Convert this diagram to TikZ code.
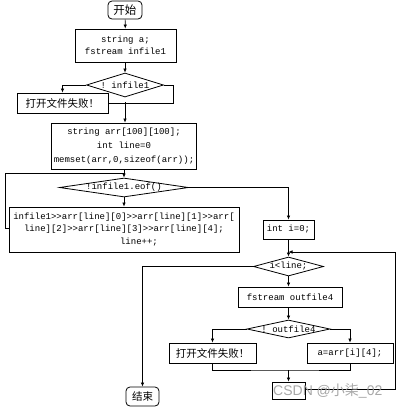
\documentclass[tikz,border=0pt]{standalone}
\usepackage{fontspec}
\setmonofont{Liberation Mono}
\setsansfont{Liberation Sans}
\newfontfamily\cjk{Noto Sans CJK SC}
\usetikzlibrary{shapes.geometric,arrows.meta}
\begin{document}
\begin{tikzpicture}[x=1pt,y=-1pt,
  box/.style={draw=black,line width=0.8pt,inner sep=0pt,
    font=\ttfamily\fontsize{9}{12}\selectfont,align=center},
  cjkbox/.style={draw=black,line width=0.8pt,inner sep=0pt,
    font=\cjk\fontsize{10.5}{12}\selectfont},
  term/.style={cjkbox,rounded corners=4pt},
  dia/.style={draw=black,line width=0.8pt,diamond,inner sep=0pt},
  dtext/.style={font=\ttfamily\fontsize{9}{11}\selectfont,inner sep=0pt},
  conn/.style={line width=0.7pt},
  arr/.style={conn,-{Latex[length=4pt,width=3.5pt]}}
]
\useasboundingbox (0,0) rectangle (402,408);
\fill[white] (0,0) rectangle (402,408);

% nodes
\node[term,minimum width=34pt,minimum height=18pt,font=\cjk\fontsize{11.5}{12}\selectfont] (start) at (125,10) {开始};
\node[box,minimum width=101pt,minimum height=33pt] (b1) at (125.5,45.5) {string a;\\fstream infile1};
\node[dia,minimum width=77pt,minimum height=24pt] (d1) at (125,85) {};
\node[dtext] at (d1) {! infile1};
\node[cjkbox,minimum width=91pt,minimum height=20pt] (f1) at (62.5,103) {打开文件失败！};
\node[box,minimum width=145pt,minimum height=46pt,font=\ttfamily\fontsize{9}{14}\selectfont] (b2) at (124,146) {string arr[100][100];\\int line=0\\memset(arr,0,sizeof(arr));};
\node[dia,minimum width=129pt,minimum height=19pt] (d2) at (124,187.5) {};
\node[dtext] at (d2) {!infile1.eof()};
\node[box,minimum width=230pt,minimum height=45pt,font=\ttfamily\fontsize{9}{12.5}\selectfont] (b3) at (124,229.5) {infile1>{}>arr[line][0]>{}>arr[line][1]>{}>arr[\\line][2]>{}>arr[line][3]>{}>arr[line][4];\\\hspace*{30pt}line++;};
\node[box,minimum width=51pt,minimum height=19pt] (i0) at (288.5,229.5) {int i=0;};
\node[dia,minimum width=70pt,minimum height=19pt] (d3) at (288.5,266.5) {};
\node[dtext] at (d3) {i<line;};
\node[box,minimum width=104pt,minimum height=20pt] (fs) at (290,297) {fstream outfile4};
\node[dia,minimum width=83pt,minimum height=18pt] (d4) at (288.5,329) {};
\node[dtext] at (d4) {! outfile4};
\node[cjkbox,minimum width=87pt,minimum height=20pt] (f2) at (212.5,353) {打开文件失败！};
\node[box,minimum width=86pt,minimum height=20pt] (a) at (350,353) {a=arr[i][4];};
\node[box,minimum width=33pt,minimum height=17pt] (inc) at (288.5,390.5) {};
\node[term,minimum width=33pt,minimum height=19pt] (end) at (142.5,396.5) {结束};

% helper coordinates
\coordinate (m1) at (125,102);
\coordinate (j1) at (124,173);
\coordinate (j2) at (288.5,252);
\coordinate (m2) at (288.5,370);

% connectors
\draw[arr] (start) -- (b1);
\draw[arr] (b1.south -| d1.north) -- (d1.north);
\draw[arr] (d1.west) -| (f1.north);
\draw[conn] (d1.east) -- ++(9,0) |- (f1.east);
\draw[arr] (m1) -- (m1 |- b2.north);
\draw[arr] (b2.south) -- (d2.north);
\draw[conn] (b3.west |- 0,228) -- (5,228) |- (j1);
\draw[arr] (d2.south) -- (b3.north);
\draw[arr] (d2.east) -| (i0.north);
\draw[arr] (i0.south) -- (d3.north);
\draw[arr] (d3.west) -| (end.north);
\draw[arr] (d3.south) -- (d3.south |- fs.north);
\draw[arr] (fs.south -| d4.north) -- (d4.north);
\draw[arr] (d4.west) -| (f2.north);
\draw[arr] (d4.east) -| (a.north);
\draw[conn] (f2.south) |- (m2) -| (a.south);
\draw[arr] (m2) -- (inc.north);
\draw[arr] (inc.east |- 0,389) -- (395,389) |- (j2);

% watermark
\node[text=gray!75,opacity=0.9,font=\sffamily\fontsize{14}{14}\selectfont,inner sep=0pt,anchor=west] (wm) at (273,391) {CSDN @{\cjk 小柒}\_02};
\end{tikzpicture}
\end{document}
